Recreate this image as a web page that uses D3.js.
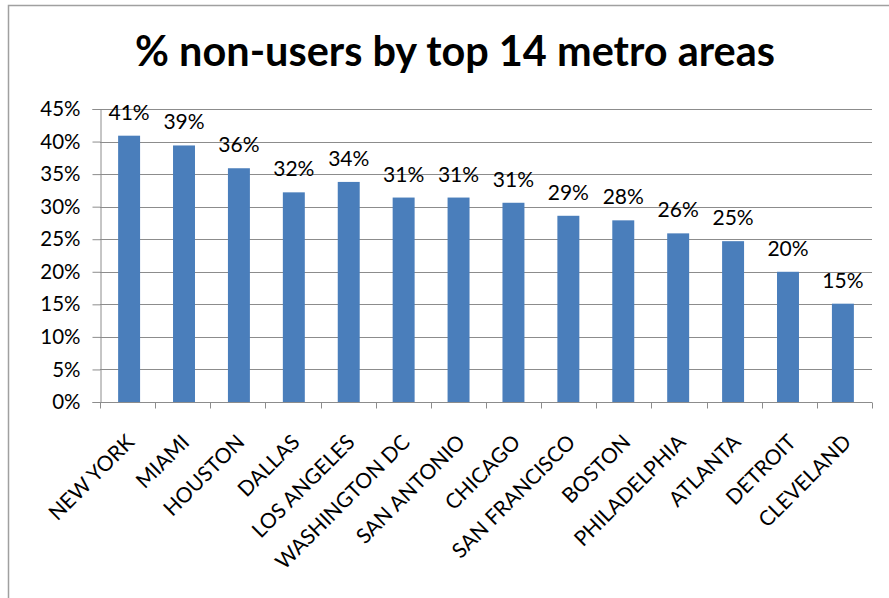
<!DOCTYPE html>
<html>
<head>
<meta charset="utf-8">
<script src="https://d3js.org/d3.v7.min.js"></script>
<style>
  body { margin: 0; background: #fff; }
  text { font-family: Lato, "Open Sans", sans-serif; fill: #000; }
</style>
</head>
<body>
<div id="chart"></div>
<script>

// data
var cities = ["NEW YORK", "MIAMI", "HOUSTON", "DALLAS", "LOS ANGELES", "WASHINGTON DC",
  "SAN ANTONIO", "CHICAGO", "SAN FRANCISCO", "BOSTON", "PHILADELPHIA", "ATLANTA",
  "DETROIT", "CLEVELAND"]
var values = [40.9, 39.4, 35.9, 32.2, 33.8, 31.4, 31.4, 30.6, 28.6, 27.9, 25.9, 24.7, 20.0, 15.1]
var labels = ["41%", "39%", "36%", "32%", "34%", "31%", "31%", "31%", "29%", "28%", "26%", "25%", "20%", "15%"]
var yTicks = [0, 5, 10, 15, 20, 25, 30, 35, 40, 45]
var title = "% non-users by top 14 metro areas"

var width = 889
var height = 598
var margin = {top: 109, right: 17, bottom: 196, left: 100}

var svg = d3.select("#chart")
  .append("svg")
    .attr("width", width)
    .attr("height", height)

// outer chart frame (only top and left edges are visible)
svg.append("path")
  .attr("d", "M8.5," + height + "V5.5H" + width)
  .attr("fill", "none")
  .attr("stroke", "#a0a0a0")
  .attr("stroke-width", 1.5)

var x = d3.scaleBand()
  .domain(cities)
  .range([margin.left, width - margin.right])
  .paddingInner(0.6)
  .paddingOuter(0.33)

var y = d3.scaleLinear()
  .domain([0, 45])
  .range([height - margin.bottom, margin.top])

// gridlines
svg.append("g")
  .selectAll("line")
  .data(yTicks)
  .enter()
  .append("line")
    .attr("x1", margin.left)
    .attr("x2", width - margin.right)
    .attr("y1", function(d){ return Math.round(y(d)) + 0.5 })
    .attr("y2", function(d){ return Math.round(y(d)) + 0.5 })
    .attr("stroke", "#8c8c8c")
    .attr("stroke-width", 1)

// bars
svg.append("g")
  .selectAll("rect")
  .data(values)
  .enter()
  .append("rect")
    .attr("x", function(d, i){ return x(cities[i]) })
    .attr("y", function(d){ return y(d) })
    .attr("width", x.bandwidth())
    .attr("height", function(d){ return y(0) - y(d) })
    .attr("fill", "#4a7ebb")

// value labels
svg.append("g")
  .selectAll("text")
  .data(values)
  .enter()
  .append("text")
    .attr("x", function(d, i){ return x(cities[i]) + x.bandwidth() / 2 })
    .attr("y", function(d){ return y(d) - 16 })
    .attr("text-anchor", "middle")
    .style("font-size", "21px")
    .text(function(d, i){ return labels[i] })

// y axis
var yAxis = svg.append("g")
  .attr("transform", "translate(" + (margin.left + 0.5) + ",0)")
  .call(d3.axisLeft(y).tickValues(yTicks).tickSize(8).tickPadding(12)
    .tickFormat(function(d){ return d + "%" }))
yAxis.select(".domain").attr("stroke", "#8c8c8c")
yAxis.selectAll(".tick line").attr("stroke", "#8c8c8c")
yAxis.selectAll(".tick text").style("font-size", "20.5px").attr("fill", "#000")
  .style("font-family", "Lato, sans-serif")

// x axis baseline with ticks between categories
var xBase = Math.round(y(0)) + 0.5
var catW = (width - margin.right - margin.left) / cities.length
svg.append("line")
  .attr("x1", margin.left)
  .attr("x2", width - margin.right)
  .attr("y1", xBase)
  .attr("y2", xBase)
  .attr("stroke", "#8c8c8c")
svg.append("g")
  .selectAll("line")
  .data(d3.range(cities.length + 1))
  .enter()
  .append("line")
    .attr("x1", function(i){ return Math.round(margin.left + i * catW) + 0.5 })
    .attr("x2", function(i){ return Math.round(margin.left + i * catW) + 0.5 })
    .attr("y1", xBase)
    .attr("y2", xBase + 6)
    .attr("stroke", "#8c8c8c")

// category labels, rotated
svg.append("g")
  .selectAll("text")
  .data(cities)
  .enter()
  .append("text")
    .attr("transform", function(d, i){
      return "translate(" + (margin.left + (i + 0.5) * catW + 8) + "," + (xBase + 41) + ") rotate(-45)"
    })
    .attr("text-anchor", "end")
    .style("font-size", "21px")
    .text(function(d){ return d })

// title, sized to the width it has in the picture
var t = svg.append("text")
  .attr("x", 455)
  .attr("y", 66)
  .attr("text-anchor", "middle")
  .style("font-size", "36px")
  .style("font-weight", "bold")
  .text(title)
var tw = t.node().getComputedTextLength()
t.style("font-size", (36 * 640 / tw) + "px")

</script>
</body>
</html>
